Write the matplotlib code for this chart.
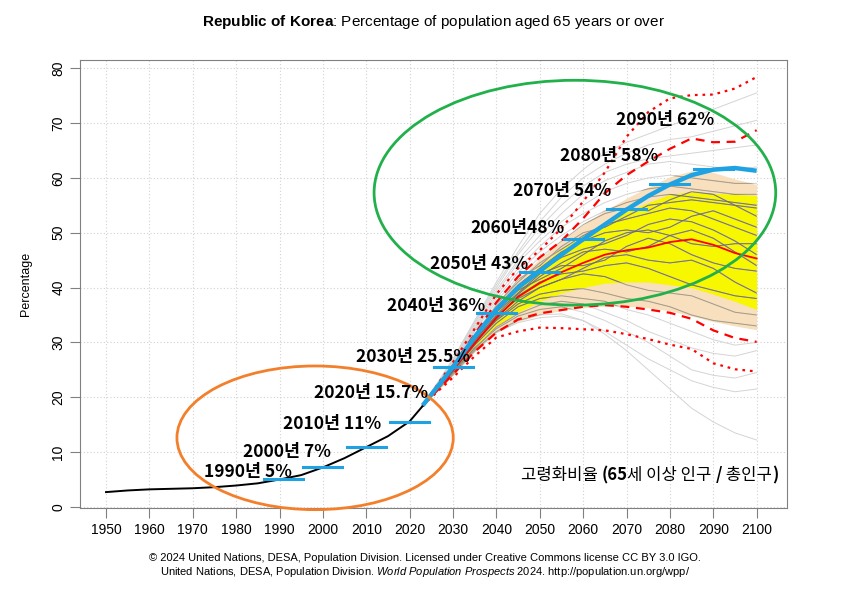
import matplotlib
matplotlib.use('Agg')
import matplotlib.pyplot as plt
import numpy as np
from matplotlib.patches import Ellipse
from matplotlib.offsetbox import TextArea, HPacker, AnchoredOffsetbox

plt.rcParams['font.family'] = ['Liberation Sans', 'DejaVu Sans']
plt.rcParams['mathtext.fontset'] = 'custom'
plt.rcParams['mathtext.rm'] = 'Liberation Sans'
plt.rcParams['mathtext.it'] = 'Liberation Sans:italic'
plt.rcParams['mathtext.bf'] = 'Liberation Sans:bold'

# observed
years_h = [1950, 1955, 1960, 1965, 1970, 1975, 1980, 1985, 1990, 1995,
           2000, 2005, 2010, 2015, 2020, 2023]
pct_h = [2.7, 3.0, 3.2, 3.3, 3.4, 3.6, 3.9, 4.3, 5.0, 5.8,
         7.2, 8.9, 10.9, 12.9, 15.6, 18.4]

# projections
years_p = [2023, 2025, 2030, 2035, 2040, 2045, 2050, 2055, 2060, 2065,
           2070, 2075, 2080, 2085, 2090, 2095, 2100]
median = [18.4, 20.3, 25.0, 29.8, 34.5, 38.3, 40.8, 42.8, 44.5, 46.0,
          46.8, 47.3, 48.3, 48.8, 47.8, 46.3, 45.3]
pi80_up = [18.4, 20.5, 25.8, 31.5, 37.3, 42.0, 45.5, 48.5, 52.6, 57.2,
           60.5, 63.0, 65.3, 67.2, 66.5, 66.6, 68.7]
pi80_lo = [18.4, 20.1, 24.2, 28.3, 31.8, 34.2, 35.3, 35.9, 36.5, 36.8,
           36.5, 36.0, 35.4, 34.3, 32.2, 30.8, 30.1]
pi95_up = [18.4, 20.7, 26.4, 32.5, 38.8, 43.5, 46.8, 50.8, 55.7, 61.0,
           67.5, 72.0, 74.5, 75.1, 75.2, 76.3, 78.4]
pi95_lo = [18.4, 20.0, 23.6, 27.5, 30.9, 32.0, 32.7, 32.6, 32.4, 32.2,
           31.5, 30.6, 29.6, 28.8, 26.2, 25.1, 24.7]

yel_up = [18.4, 20.4, 25.5, 30.8, 36.0, 40.5, 44.0, 47.0, 49.5, 51.8,
          53.8, 55.5, 57.0, 57.5, 57.2, 57.0, 56.8]
yel_lo = [18.4, 20.2, 24.5, 29.0, 33.0, 35.5, 37.5, 39.0, 40.0, 40.8,
          41.0, 41.0, 40.5, 40.0, 38.8, 37.5, 36.0]
tan_up = [18.4, 20.5, 25.8, 31.3, 36.8, 41.5, 45.3, 48.5, 51.5, 54.0,
          56.3, 58.3, 60.2, 61.3, 61.0, 59.8, 58.8]
tan_lo = [18.4, 20.0, 24.0, 28.3, 31.8, 33.8, 35.0, 35.8, 36.3, 36.6,
          36.6, 36.3, 35.8, 34.8, 33.8, 33.0, 32.3]

# sample trajectories
trajs = [
    [18.4, 20.3, 24.2, 28.6, 32.0, 34.0, 35.0, 35.2, 34.0, 31.5, 28.5, 25.0, 21.5, 18.0, 15.5, 13.5, 12.2],
    [18.4, 20.2, 24.0, 28.3, 31.8, 33.6, 34.5, 34.8, 34.0, 32.0, 29.5, 27.0, 25.0, 23.0, 21.8, 21.0, 21.5],
    [18.4, 20.3, 24.5, 29.0, 32.5, 34.8, 36.0, 36.5, 35.5, 34.0, 32.0, 30.0, 27.5, 25.0, 24.0, 23.5, 24.5],
    [18.4, 20.3, 24.4, 28.8, 32.8, 35.2, 36.8, 37.5, 37.0, 35.5, 34.0, 32.0, 30.5, 29.0, 28.0, 27.5, 28.5],
    [18.4, 20.4, 24.8, 29.5, 33.5, 36.5, 38.0, 38.5, 38.0, 37.5, 36.0, 35.0, 33.5, 32.0, 30.5, 29.5, 30.0],
    [18.4, 20.4, 25.0, 30.0, 34.0, 37.0, 38.8, 39.5, 39.8, 39.0, 38.0, 37.5, 36.5, 35.0, 34.0, 33.5, 33.0],
    [18.4, 20.5, 25.2, 30.4, 34.8, 38.0, 40.0, 41.5, 42.5, 42.0, 40.5, 39.5, 39.0, 38.5, 37.0, 35.5, 35.0],
    [18.4, 20.5, 25.0, 30.0, 34.5, 38.5, 41.0, 42.5, 43.0, 44.0, 44.5, 43.5, 42.0, 40.5, 39.5, 38.5, 38.0],
    [18.4, 20.4, 24.8, 29.8, 34.2, 37.5, 40.0, 41.5, 43.5, 45.5, 46.0, 45.0, 44.5, 45.0, 43.5, 41.0, 39.0],
    [18.4, 20.5, 25.3, 30.6, 35.5, 39.0, 42.5, 44.0, 44.0, 45.0, 47.5, 49.0, 48.0, 46.0, 44.5, 43.5, 43.0],
    [18.4, 20.5, 25.2, 30.3, 35.0, 38.8, 42.0, 44.5, 46.5, 47.0, 46.5, 47.5, 49.5, 50.5, 49.0, 46.5, 44.0],
    [18.4, 20.6, 25.5, 31.0, 36.0, 39.5, 41.5, 43.5, 46.0, 48.5, 50.0, 50.5, 49.5, 48.0, 47.5, 48.0, 48.0],
    [18.4, 20.5, 25.4, 30.8, 35.8, 40.0, 43.0, 45.5, 47.0, 48.0, 49.5, 51.5, 52.5, 52.0, 50.5, 48.5, 46.0],
    [18.4, 20.6, 25.6, 31.2, 36.5, 40.5, 43.5, 46.5, 48.5, 50.0, 50.5, 50.0, 51.0, 53.0, 54.0, 52.5, 51.0],
    [18.4, 20.6, 25.8, 31.5, 37.0, 41.0, 44.5, 47.0, 49.5, 51.5, 52.5, 53.5, 54.5, 54.0, 52.5, 51.0, 49.5],
    [18.4, 20.6, 25.7, 31.4, 36.8, 41.5, 44.0, 47.5, 50.0, 51.0, 53.0, 55.0, 55.5, 56.0, 55.5, 55.0, 54.5],
    [18.4, 20.7, 26.0, 32.0, 37.5, 42.0, 45.5, 48.5, 51.5, 53.5, 54.5, 54.0, 56.0, 57.5, 57.0, 55.0, 53.0],
    [18.4, 20.7, 26.1, 32.2, 38.0, 42.8, 46.5, 49.5, 52.0, 54.0, 55.5, 56.5, 57.0, 56.5, 56.0, 55.5, 55.0],
    [18.4, 20.7, 26.2, 32.5, 38.5, 43.5, 47.5, 51.0, 53.5, 55.5, 57.0, 58.0, 58.5, 58.0, 57.5, 57.0, 57.0],
    [18.4, 20.8, 26.4, 32.8, 39.0, 44.5, 48.5, 52.0, 55.0, 57.5, 59.0, 60.0, 60.5, 60.0, 59.5, 59.0, 59.0],
    [18.4, 20.8, 26.6, 33.2, 39.5, 45.0, 49.5, 53.5, 57.0, 59.5, 61.0, 62.5, 63.0, 62.5, 62.0, 61.5, 62.0],
    [18.4, 20.8, 26.7, 33.5, 40.0, 46.0, 51.0, 55.0, 58.5, 61.0, 62.5, 63.5, 64.0, 64.5, 65.0, 65.5, 66.0],
    [18.4, 20.9, 26.9, 33.8, 40.5, 46.5, 52.0, 56.5, 60.0, 62.5, 64.5, 66.0, 67.0, 67.5, 68.5, 69.5, 70.5],
    [18.4, 20.9, 27.0, 34.0, 41.0, 47.5, 53.5, 58.0, 61.5, 64.5, 66.5, 68.0, 69.5, 71.0, 72.5, 74.0, 75.5],
]

# hand-drawn annotation (blue trend line + decade markers)
blue_years = [2023, 2025, 2030, 2035, 2040, 2045, 2050, 2055, 2060, 2065,
              2070, 2075, 2080, 2085, 2090, 2095, 2100]
blue_vals = [18.5, 20.5, 25.5, 31.0, 36.0, 40.0, 43.0, 46.0, 48.8, 51.5,
             54.2, 56.7, 58.8, 60.5, 61.5, 61.8, 61.3]
mark_years = [1991, 2000, 2010, 2020, 2030, 2040, 2050, 2060, 2070, 2080, 2090]
mark_vals = [5.1, 7.2, 10.9, 15.4, 25.6, 35.3, 42.9, 48.8, 54.4, 58.8, 61.7]
labels = ['1990년 5%', '2000년 7%', '2010년 11%', '2020년 15.7%', '2030년 25.5%',
          '2040년 36%', '2050년 43%', '2060년48%', '2070년 54%', '2080년 58%',
          '2090년 62%']
label_x = [1992.8, 2001.8, 2013.5, 2024.3, 2033.9, 2037.3, 2047.3, 2055.8,
           2066.5, 2077.4, 2090.3]
label_y = [6.4, 10.1, 15.1, 20.8, 27.3, 36.6, 44.3, 50.9, 57.6, 64.0, 70.5]

fig = plt.figure(figsize=(8.5, 5.92), dpi=100)
ax = fig.add_axes([80 / 850, 1 - 508 / 592, 707 / 850, 448 / 592])
ax.set_xlim(1944, 2107)
ax.set_ylim(-0.2, 81.5)

ax.set_xticks(range(1950, 2101, 10))
ax.set_yticks(range(0, 81, 10))
ax.grid(True, color='#d2d2d2', linestyle=(0, (1, 2)), linewidth=0.8)
ax.set_axisbelow(True)
for sp in ax.spines.values():
    sp.set_color('#808080')
ax.tick_params(colors='#808080', labelcolor='black', length=7, labelsize=10)
for t in ax.get_yticklabels():
    t.set_rotation(90)
    t.set_va('center')
ax.set_ylabel('Percentage', fontsize=9, labelpad=14)

tan = ax.fill_between(years_p[1:], tan_lo[1:], tan_up[1:], color='#f8e0bf',
                      linewidth=0, zorder=1)
yel = ax.fill_between(years_p[1:], yel_lo[1:], yel_up[1:], color='#f7f700',
                      linewidth=0, zorder=1.1)

for tr in trajs:
    ax.plot(years_p, tr, color='#d4d4d4', lw=0.7, zorder=2)
    l1, = ax.plot(years_p, tr, color='#a89a80', lw=0.7, zorder=2.1)
    l1.set_clip_path(tan.get_paths()[0], ax.transData)
    l2, = ax.plot(years_p, tr, color='#666666', lw=0.7, zorder=2.2, alpha=0.7)
    l2.set_clip_path(yel.get_paths()[0], ax.transData)

ax.plot(years_p, pi95_up, color='red', lw=1.6, ls=(0, (1.2, 2.2)), zorder=3)
ax.plot(years_p, pi95_lo, color='red', lw=1.6, ls=(0, (1.2, 2.2)), zorder=3)
ax.plot(years_p, pi80_up, color='red', lw=1.6, ls=(0, (4, 3)), zorder=3)
ax.plot(years_p, pi80_lo, color='red', lw=1.6, ls=(0, (4, 3)), zorder=3)
ax.plot(years_p, median, color='red', lw=1.3, zorder=3.1)
ax.plot(years_h, pct_h, color='black', lw=1.4, zorder=3.2)

blue = '#1fa2e2'
ax.plot(blue_years, blue_vals, color=blue, lw=3.2, zorder=4, solid_capstyle='butt')
for yr, v in zip(mark_years, mark_vals):
    ax.plot([yr - 4.5, yr + 4.5], [v, v], color=blue, lw=2.2, zorder=4)

ax.add_patch(Ellipse((2058.1, 57.3), 92.6, 41.0, fill=False,
                     edgecolor='#22b04b', lw=2, zorder=5))
ax.add_patch(Ellipse((1998.2, 12.6), 63.7, 26.2, fill=False,
                     edgecolor='#f47f2b', lw=2, zorder=5, clip_on=False))

kfont = ['Noto Sans CJK KR', 'DejaVu Sans']
for s, x, y in zip(labels, label_x, label_y):
    ax.text(x, y, s, ha='right', va='center', fontsize=12.5,
            fontweight='bold', family=kfont, zorder=6)

# bottom-right note, mixed weights
parts = [('고령화비율 ', 'normal'), ('(65', 'bold'), ('세 이상 인구 ', 'normal'),
         ('/', 'bold'), (' 총인구', 'normal'), (')', 'bold')]
areas = [TextArea(s, textprops=dict(family=kfont, fontsize=12, fontweight=w))
         for s, w in parts]
box = HPacker(children=areas, align='baseline', pad=0, sep=0)
anch = AnchoredOffsetbox(loc='lower right', child=box, frameon=False,
                         bbox_to_anchor=(778 / 850, 1 - 484 / 592),
                         bbox_transform=fig.transFigure, borderpad=0, pad=0)
anch.set_zorder(6)
ax.add_artist(anch)

fig.text(433.5 / 850, 1 - 22 / 592,
         r'$\mathbf{Republic\ of\ Korea}$: Percentage of population aged 65 years or over',
         ha='center', va='center', fontsize=11)
fig.text(425 / 850, 1 - 558 / 592,
         '© 2024 United Nations, DESA, Population Division. Licensed under Creative Commons license CC BY 3.0 IGO.',
         ha='center', va='center', fontsize=8)
fig.text(425 / 850, 1 - 572 / 592,
         r'United Nations, DESA, Population Division. $\mathit{World\ Population\ Prospects\ 2024}$. http://population.un.org/wpp/',
         ha='center', va='center', fontsize=8)

fig.savefig('out.png', dpi=100)
